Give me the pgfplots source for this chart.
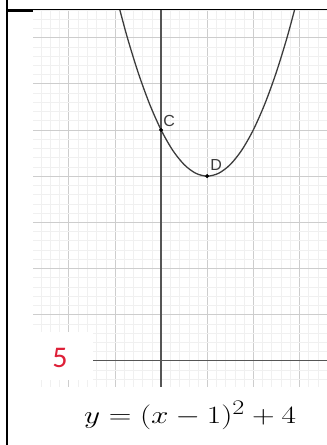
\documentclass[border=0pt]{standalone}
\usepackage{pgfplots}
\pgfplotsset{compat=1.18}
\usepackage{graphicx}
\usepackage{fontspec}
\setmainfont{Liberation Sans}
\newfontfamily\calibri{Carlito}
\definecolor{gridmajor}{RGB}{205,205,205}
\definecolor{gridminor}{RGB}{240,240,240}
\definecolor{axiscol}{RGB}{85,85,85}
\definecolor{curvecol}{RGB}{60,60,60}
\definecolor{labelcol}{RGB}{60,60,60}
\definecolor{numred}{RGB}{222,32,56}
\begin{document}
\begin{tikzpicture}
\path[use as bounding box] (0pt,0pt) rectangle (327pt,445pt);
\begin{axis}[
  at={(33pt,58pt)}, anchor=south west,
  scale only axis, width=294pt, height=377pt,
  xmin=-2.78, xmax=3.6, ymin=-0.57, ymax=7.6,
  axis line style={draw=none},
  xtick distance=1, ytick distance=1,
  minor x tick num=4, minor y tick num=4,
  grid=both,
  major grid style={gridmajor, line width=0.9pt},
  minor grid style={gridminor, line width=0.5pt},
  major tick length=0pt, minor tick length=0pt,
  xticklabels={}, yticklabels={},
  extra x ticks={0}, extra y ticks={0},
  extra x tick labels={}, extra y tick labels={},
  extra tick style={grid=major, major grid style={axiscol, line width=1.5pt}},
]
% the parabola y = (x-1)^2 + 4
\addplot[curvecol, line width=1.3pt, smooth] coordinates {
  (-1.0,8) (-0.75,7.0625) (-0.5,6.25) (-0.25,5.5625) (0,5)
  (0.25,4.5625) (0.5,4.25) (0.75,4.0625) (1,4) (1.25,4.0625)
  (1.5,4.25) (1.75,4.5625) (2,5) (2.25,5.5625) (2.5,6.25)
  (2.75,7.0625) (3,8)
};
% the marked points C and D
\addplot[only marks, mark=*, mark size=1.8pt, black] coordinates {(0,5) (1,4)};
\node[anchor=south west, inner sep=0pt, xshift=2pt, yshift=3pt, text=labelcol,
      font=\fontsize{16}{18}\selectfont] at (axis cs:0,5) {C};
\node[anchor=south west, inner sep=0pt, xshift=3pt, yshift=5pt, text=labelcol,
      font=\fontsize{16}{18}\selectfont] at (axis cs:1,4) {D};
\end{axis}
% item number on a white patch
\fill[white] (33pt,65pt) rectangle (93pt,113pt);
\node[text=numred, inner sep=0pt, font=\calibri\fontsize{30}{36}\selectfont] at (60pt,87pt) {5};
% cell borders
\draw[line width=2pt] (7pt,0pt) -- (7pt,445pt);
\draw[line width=1pt] (6pt,435pt) -- (327pt,435pt);
\draw[line width=2.2pt] (7pt,434pt) -- (33pt,434pt);
% equation
\node[anchor=base, inner sep=0pt] at (190pt,21pt)
  {\scalebox{1.26}[1]{\fontsize{31}{37}\selectfont $y=(x-1)^2+4$}};
\end{tikzpicture}
\end{document}
